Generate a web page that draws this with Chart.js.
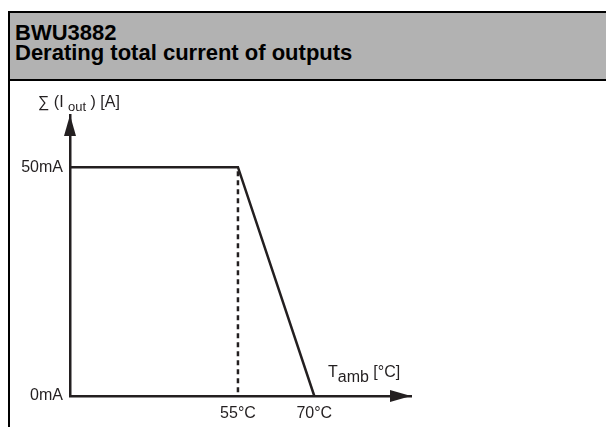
<!DOCTYPE html>
<html>
<head>
<meta charset="utf-8">
<script src="https://cdn.jsdelivr.net/npm/chart.js@4.4.1/dist/chart.umd.min.js"></script>
<style>
  body { margin: 0; background: #fff; width: 606px; height: 427px; overflow: hidden; position: relative; font-family: "Liberation Sans", Arial, sans-serif; }
  .frame { position: absolute; left: 8px; top: 11px; width: 700px; height: 500px; border: 2px solid #000; box-sizing: border-box; }
  .header { height: 68px; background: #b2b2b2; border-bottom: 2px solid #000; padding: 10px 0 0 5px; box-sizing: border-box; color: #000; font-weight: bold; font-size: 22px; line-height: 20px; }
  #wrap { position: absolute; left: 10px; top: 81px; width: 596px; height: 346px; }
</style>
</head>
<body>
<div class="frame">
  <div class="header">BWU3882<br>Derating total current of outputs</div>
</div>
<div id="wrap"><canvas id="derating"></canvas></div>
<script>
// data
const tempValues = [22, 55, 70];
const currentValues = [50, 50, 0];
const dashTemp = [55, 55];
const dashCurrent = [50, 0];
const xTickValues = [55, 70];
const yTickValues = [0, 50];

const ink = "#231f20";
const labelFont = { family: "'Liberation Sans', Arial, sans-serif", size: 16 };

const axisArrows = {
  id: "axisArrows",
  afterDraw(chart) {
    const { ctx, chartArea } = chart;
    const l = chartArea.left, b = chartArea.bottom, t = chartArea.top, r = chartArea.right;
    ctx.save();
    ctx.fillStyle = ink;
    // y arrow
    ctx.beginPath();
    ctx.moveTo(l, t);
    ctx.lineTo(l - 6, t + 21);
    ctx.lineTo(l + 6, t + 21);
    ctx.closePath();
    ctx.fill();
    // x arrow
    ctx.beginPath();
    ctx.moveTo(r, b);
    ctx.lineTo(r - 21, b - 6);
    ctx.lineTo(r - 21, b + 6);
    ctx.closePath();
    ctx.fill();

    // axis titles
    ctx.textBaseline = "alphabetic";
    ctx.textAlign = "left";
    ctx.font = "16px 'Liberation Sans', Arial, sans-serif";
    let x = 28, y = 26;
    ctx.fillText("\u2211 (I", x, y);
    x += ctx.measureText("\u2211 (I ").width;
    ctx.font = "13px 'Liberation Sans', Arial, sans-serif";
    ctx.fillText("out", x, y + 4);
    x += ctx.measureText("out").width;
    ctx.font = "16px 'Liberation Sans', Arial, sans-serif";
    ctx.fillText(" ) [A]", x, y);

    x = 318; y = 296;
    ctx.font = "16px 'Liberation Sans', Arial, sans-serif";
    ctx.fillText("T", x, y);
    x += ctx.measureText("T").width;
    ctx.fillText("amb", x, y + 5);
    x += ctx.measureText("amb ").width;
    ctx.fillText("[\u00b0C]", x, y);
    ctx.restore();
  }
};

new Chart(document.getElementById("derating"), {
  type: "line",
  data: {
    datasets: [
      {
        data: tempValues.map((t, i) => ({ x: t, y: currentValues[i] })),
        borderColor: ink,
        borderWidth: 2.5,
        pointRadius: 0,
        tension: 0,
        fill: false,
      },
      {
        data: dashTemp.map((t, i) => ({ x: t, y: dashCurrent[i] })),
        borderColor: ink,
        borderWidth: 2.5,
        borderDash: [5, 4],
        borderDashOffset: -4,
        pointRadius: 0,
        fill: false,
      },
    ],
  },
  options: {
    responsive: true,
    maintainAspectRatio: false,
    animation: false,
    layout: { padding: { left: 0, top: 34, right: 195, bottom: 0 } },
    plugins: { legend: { display: false }, tooltip: { enabled: false } },
    scales: {
      x: {
        type: "linear",
        min: 22,
        max: 89,
        grid: { display: false, drawTicks: false },
        border: { display: true, color: ink, width: 2.5 },
        afterBuildTicks: (s) => { s.ticks = xTickValues.map((v) => ({ value: v })); },
        afterFit: (s) => { s.height = 31; },
        ticks: { color: ink, font: labelFont, padding: 8, maxRotation: 0, callback: (v) => v + "\u00b0C" },
      },
      y: {
        type: "linear",
        min: 0,
        max: 61.4,
        grid: { display: false, drawTicks: false },
        border: { display: true, color: ink, width: 2.5 },
        afterBuildTicks: (s) => { s.ticks = yTickValues.map((v) => ({ value: v })); },
        afterFit: (s) => { s.width = 60; },
        ticks: { color: ink, font: labelFont, padding: 7, callback: (v) => v + "mA" },
      },
    },
  },
  plugins: [axisArrows],
});
</script>
</body>
</html>
